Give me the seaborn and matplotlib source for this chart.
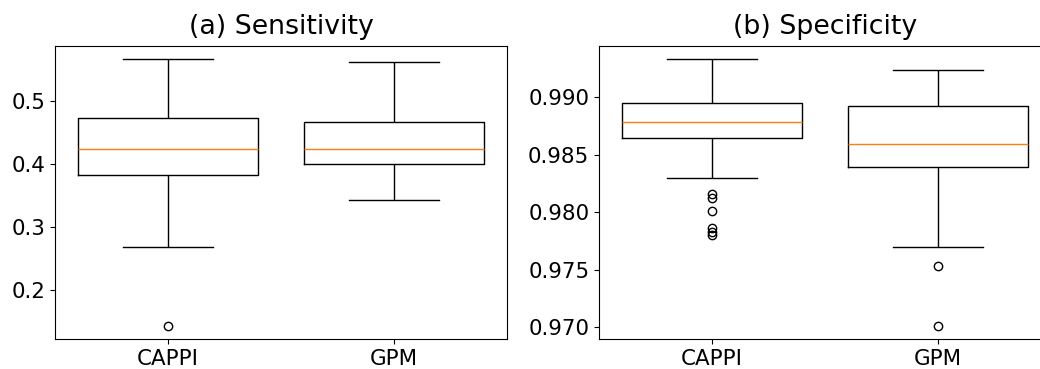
import matplotlib
matplotlib.use("Agg")
import matplotlib.pyplot as plt
import seaborn as sns
import pandas as pd

# ---- values (box-plot summaries) ----
categories = ["CAPPI", "GPM"]

sens_whislo = [0.268, 0.343]
sens_q1 = [0.383, 0.400]
sens_med = [0.424, 0.425]
sens_q3 = [0.474, 0.468]
sens_whishi = [0.567, 0.563]
sens_outliers = [[0.143], []]

spec_whislo = [0.98297, 0.97700]
spec_q1 = [0.98643, 0.98395]
spec_med = [0.98787, 0.98591]
spec_q3 = [0.98953, 0.98924]
spec_whishi = [0.99331, 0.99238]
spec_outliers = [[0.98160, 0.98123, 0.98014, 0.97861, 0.97827, 0.97800],
                 [0.97535, 0.97011]]

titles = ["(a) Sensitivity", "(b) Specificity"]


def sample_from_summary(lo, q1, med, q3, hi, outliers):
    """Build a sample whose linear-percentile quartiles, whiskers and
    outliers equal the summary values read from the picture."""
    low_out = sorted(v for v in outliers if v < q1)
    high_out = sorted(v for v in outliers if v > q3)
    k = max(len(low_out), len(high_out), 1) + 1
    vals = (low_out + [lo] * (k - len(low_out)) + [q1] * k + [med]
            + [q3] * k + [hi] * (k - len(high_out)) + high_out)
    return vals


def build_frame(whislo, q1, med, q3, whishi, outliers):
    rows = []
    for i, cat in enumerate(categories):
        for v in sample_from_summary(whislo[i], q1[i], med[i], q3[i],
                                     whishi[i], outliers[i]):
            rows.append({"method": cat, "value": v})
    return pd.DataFrame(rows)


df_sens = build_frame(sens_whislo, sens_q1, sens_med, sens_q3, sens_whishi, sens_outliers)
df_spec = build_frame(spec_whislo, spec_q1, spec_med, spec_q3, spec_whishi, spec_outliers)

W, H = 1040, 369
fig = plt.figure(figsize=(W / 100, H / 100), dpi=100)
ax1 = fig.add_axes([55 / W, 30 / H, 452 / W, 293 / H])
ax2 = fig.add_axes([599 / W, 30 / H, 452 / W, 293 / H])

for ax, df, title in [(ax1, df_sens, titles[0]), (ax2, df_spec, titles[1])]:
    sns.boxplot(data=df, x="method", y="value", order=categories, ax=ax,
                fill=False, color="black", linewidth=1.0, width=0.8,
                fliersize=6,
                medianprops={"color": "#ff7f0e", "linewidth": 1.0},
                flierprops={"marker": "o", "markerfacecolor": "none",
                            "markeredgecolor": "black", "markersize": 6,
                            "markeredgewidth": 1.0})
    ax.set_xlabel("")
    ax.set_ylabel("")
    ax.set_title(title, fontsize=19.3, pad=9)
    ax.tick_params(labelsize=15.4)
    ax.margins(y=0.05)
    ax.set_xlim(-0.5, 1.5)

ax1.set_yticks([0.2, 0.3, 0.4, 0.5])
ax2.set_yticks([0.970, 0.975, 0.980, 0.985, 0.990])
ax2.set_yticklabels(["0.970", "0.975", "0.980", "0.985", "0.990"])

fig.savefig("out.png", dpi=100)
